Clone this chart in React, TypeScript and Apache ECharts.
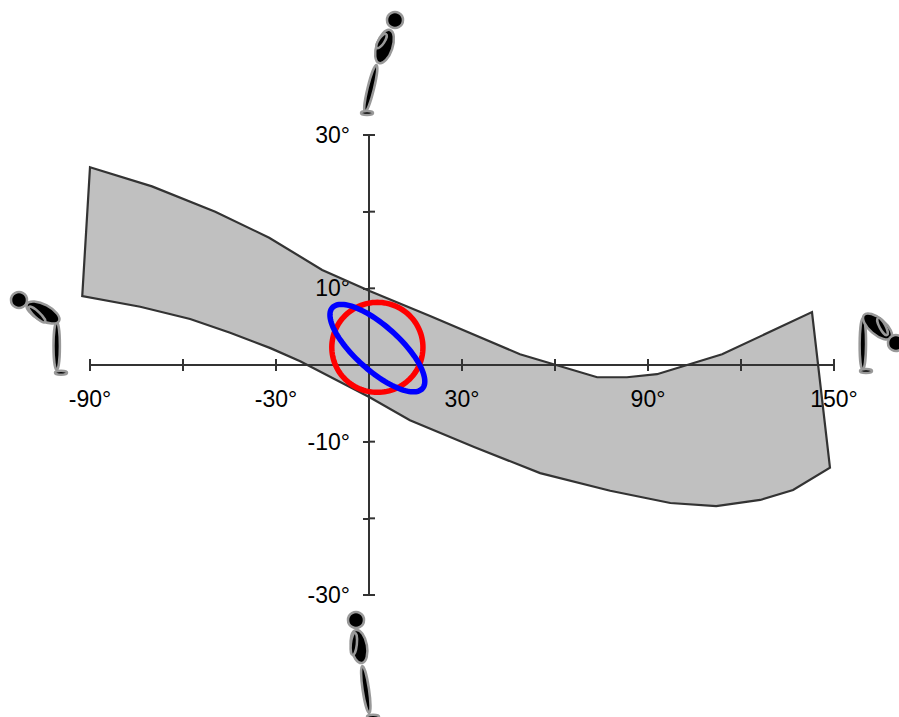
import React, { useEffect, useRef } from "react";
import * as echarts from "echarts";

const xTicks = [-90, -30, 30, 90, 150];
const yTicks = [-30, -10, 10, 30];
const xTickStops = [-90, -60, -30, 0, 30, 60, 90, 120, 150];
const yTickStops = [-30, -20, -10, 0, 10, 20, 30];
const bandX = [-90, -70, -49.6, -32.2, -15.1, 0.2, 19.7, 48.7, 73.6, 83.2, 92.9, 113.9, 142.9, 148.7, 136.8, 126.2, 112, 97.2, 77.8, 55.2, 33.9, 13.2, 0.2, -22.2, -31.8, -44.8, -57.7, -73.8, -92.5];
const bandY = [25.8, 23.3, 20, 16.6, 12.4, 9.65, 6.4, 1.4, -1.6, -1.6, -1.2, 1.4, 6.9, -13.4, -16.3, -17.6, -18.4, -18, -16.4, -14.1, -10.7, -7.2, -4.2, 0.5, 2.2, 4.2, 6, 7.6, 9];
// centre x, centre y, half extent x, half extent y, correlation
const redEllipse = [2.7, 2.3, 14.7, 5.87, 0];
const blueEllipse = [2.7, 2.2, 15.3, 5.7, -0.76];

type Limb = [number, number, number, number, number];
type Figure = { head: [number, number]; torso: Limb; arm: Limb; leg: Limb; foot: [number, number] };
const figures: Figure[] = [
  { head: [395, 20], torso: [390, 30, 379, 63, 8], arm: [386, 34, 377, 48, 3], leg: [376.5, 65, 365, 112, 3.2], foot: [367, 113] },
  { head: [19, 300], torso: [27, 304, 59, 321, 8], arm: [29, 307, 45, 322, 3], leg: [56.7, 322, 56.7, 370, 3.2], foot: [61, 372.7] },
  { head: [896, 343], torso: [864, 315, 891, 338, 8], arm: [878, 318, 887, 335, 3], leg: [863, 318, 862.7, 370, 3.2], foot: [866, 371] },
  { head: [356, 620], torso: [356, 630, 362, 663, 8], arm: [355, 633, 352.7, 655, 3], leg: [362.3, 666, 369.3, 713, 3.2], foot: [373, 716.7] },
];

const INK = "#333333";
const outline = { fill: "#000000", stroke: "#999999", lineWidth: 2.5 };

function limb([x1, y1, x2, y2, w]: Limb) {
  const dx = x2 - x1;
  const dy = y2 - y1;
  return {
    type: "ellipse",
    x: (x1 + x2) / 2,
    y: (y1 + y2) / 2,
    rotation: -Math.atan2(dy, dx),
    shape: { cx: 0, cy: 0, rx: Math.hypot(dx, dy) / 2, ry: w },
    style: outline,
  };
}

function figureElements(f: Figure) {
  return [
    limb(f.leg),
    { type: "ellipse", shape: { cx: f.foot[0], cy: f.foot[1], rx: 6, ry: 2 }, style: outline },
    limb(f.torso),
    limb(f.arm),
    { type: "circle", shape: { cx: f.head[0], cy: f.head[1], r: 8 }, style: outline },
  ];
}

function bandPoints(api: any) {
  return bandX.map((x, i) => api.coord([x, bandY[i]]));
}

function ellipsePoints(api: any, e: number[]) {
  const [cx, cy, rx, ry, rho] = e;
  const phi = Math.acos(rho);
  const pts = [];
  for (let i = 0; i < 120; i++) {
    const t = (i / 120) * Math.PI * 2;
    pts.push(api.coord([cx + rx * Math.cos(t), cy + ry * Math.cos(t + phi)]));
  }
  return pts;
}

const label = {
  show: true,
  color: "#000000",
  fontFamily: "Liberation Sans",
  fontSize: 23,
  showMinLabel: true,
  showMaxLabel: true,
};

export default function App() {
  const ref = useRef<HTMLDivElement>(null);
  useEffect(() => {
    const chart = echarts.init(ref.current!, undefined, { renderer: "svg" });
    const custom = (name: string, z: number, render: (api: any) => any) => ({
      type: "custom",
      name,
      z,
      silent: true,
      data: [[0, 0]],
      renderItem: (_p: any, api: any) => render(api),
    });
    chart.setOption({
      animation: false,
      backgroundColor: "#ffffff",
      grid: { left: 90, right: 65, top: 135, bottom: 122 },
      xAxis: {
        type: "value",
        min: -90,
        max: 150,
        interval: 30,
        z: 2,
        splitLine: { show: false },
        axisLine: { show: true, onZero: true, lineStyle: { color: INK, width: 2 } },
        axisTick: { show: true, length: 6, lineStyle: { color: INK, width: 2 } },
        axisLabel: { ...label, margin: -208, formatter: (v: number) => (xTicks.includes(v) ? `${v}°` : "") },
      },
      yAxis: {
        type: "value",
        min: -30,
        max: 30,
        interval: 10,
        z: 2,
        splitLine: { show: false },
        axisLine: { show: true, onZero: true, lineStyle: { color: INK, width: 2 } },
        axisTick: { show: true, length: 6, lineStyle: { color: INK, width: 2 } },
        axisLabel: { ...label, margin: -260, formatter: (v: number) => (yTicks.includes(v) ? `${v}°` : "") },
      },
      series: [
        custom("band fill", 1, (api) => ({
          type: "polygon",
          shape: { points: bandPoints(api) },
          style: { fill: "#c0c0c0", stroke: "none" },
        })),
        custom("far-side ticks", 2, (api) => ({
          type: "group",
          children: [
            ...xTickStops.map((v) => {
              const [x, y] = api.coord([v, 0]);
              return { type: "line", shape: { x1: x, y1: y - 6, x2: x, y2: y }, style: { stroke: INK, lineWidth: 2 } };
            }),
            ...yTickStops.map((v) => {
              const [x, y] = api.coord([0, v]);
              return { type: "line", shape: { x1: x, y1: y, x2: x + 6, y2: y }, style: { stroke: INK, lineWidth: 2 } };
            }),
          ],
        })),
        custom("band edge", 3, (api) => ({
          type: "polygon",
          shape: { points: bandPoints(api) },
          style: { fill: "none", stroke: INK, lineWidth: 2.2 },
        })),
        custom("red", 4, (api) => ({
          type: "polygon",
          shape: { points: ellipsePoints(api, redEllipse) },
          style: { fill: "none", stroke: "#ff0000", lineWidth: 5.5 },
        })),
        custom("blue", 5, (api) => ({
          type: "polygon",
          shape: { points: ellipsePoints(api, blueEllipse) },
          style: { fill: "none", stroke: "#0000ff", lineWidth: 5.5 },
        })),
      ],
      graphic: figures.flatMap(figureElements),
    });
    return () => chart.dispose();
  }, []);
  return <div ref={ref} style={{ position: "absolute", left: 0, top: 0, width: 899, height: 717 }} />;
}
